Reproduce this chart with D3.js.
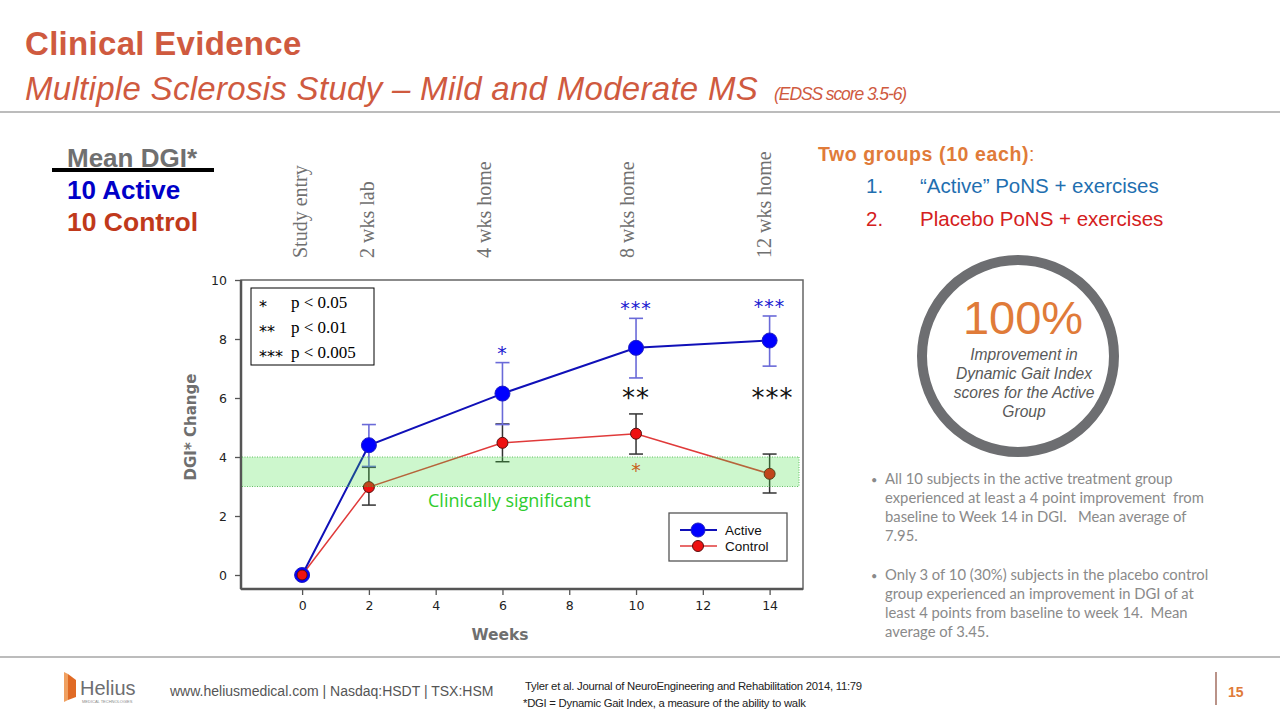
<!DOCTYPE html>
<html><head><meta charset="utf-8">
<script src="https://cdn.jsdelivr.net/npm/d3@7/dist/d3.min.js"></script>
<style>
html,body{margin:0;padding:0;background:#fff;}
svg{display:block;}
</style></head>
<body>
<svg id="c" width="1280" height="720"></svg>
<script>
// ---- data ----
const weeks = [0, 2, 6, 10, 14];
const activeMean = [0, 4.4, 6.15, 7.7, 7.95];
const activeUpper = [0, 5.1, 7.2, 8.7, 8.78];
const activeLower = [0, 3.68, 5.1, 6.68, 7.08];
const controlMean = [0, 2.98, 4.48, 4.79, 3.43];
const controlUpper = [0, 3.65, 5.12, 5.46, 4.1];
const controlLower = [0, 2.37, 3.84, 4.1, 2.78];
const xTicks = [0, 2, 4, 6, 8, 10, 12, 14];
const yTicks = [0, 2, 4, 6, 8, 10];
const band = [3, 4];
const timeLabels = [
  {week: 0, label: "Study entry"},
  {week: 2, label: "2 wks lab"},
  {week: 5.5, label: "4 wks home"},
  {week: 9.8, label: "8 wks home"},
  {week: 13.9, label: "12 wks home"}
];
const activeSig = [{week: 6, text: "*"}, {week: 10, text: "***"}, {week: 14, text: "***"}];
const betweenSig = [{week: 10, text: "**"}, {week: 14, text: "***"}];
const controlSig = [{week: 10, text: "*"}];
const pLegend = [["*", "p < 0.05"], ["**", "p < 0.01"], ["***", "p < 0.005"]];

const svg = d3.select("#c");
const SANS = "'Liberation Sans', Arial, sans-serif";

// ---- header ----
svg.append("text").attr("x", 25).attr("y", 55).attr("font-family", SANS).attr("font-weight", "bold")
  .attr("font-size", 33).attr("fill", "#cf5a3f").attr("letter-spacing", 0.3).text("Clinical Evidence");
const sub = svg.append("text").attr("x", 25).attr("y", 100).attr("font-family", SANS).attr("font-style", "italic")
  .attr("font-size", 33).attr("fill", "#cf5a3f").attr("letter-spacing", 0.3);
sub.append("tspan").text("Multiple  Sclerosis Study – Mild and Moderate MS");
sub.append("tspan").attr("dx", 16).attr("font-size", 17.5).attr("letter-spacing", -1.1).text("(EDSS score 3.5-6)");
svg.append("line").attr("x1", 0).attr("x2", 1280).attr("y1", 112).attr("y2", 112).attr("stroke", "#a6a6a6").attr("stroke-width", 1.5);

// ---- top-left legend ----
svg.append("text").attr("x", 67).attr("y", 167).attr("font-family", SANS).attr("font-weight", "bold")
  .attr("font-size", 26).attr("fill", "#707070").text("Mean DGI*");
svg.append("rect").attr("x", 52).attr("y", 168).attr("width", 162).attr("height", 4).attr("fill", "#000");
svg.append("text").attr("x", 67).attr("y", 199).attr("font-family", SANS).attr("font-weight", "bold")
  .attr("font-size", 26).attr("fill", "#0000c8").text("10 Active");
svg.append("text").attr("x", 67).attr("y", 231).attr("font-family", SANS).attr("font-weight", "bold")
  .attr("font-size", 26.5).attr("fill", "#c0391b").text("10 Control");

// ---- chart ----
const x = d3.scaleLinear().domain([-1.83, 15]).range([241, 803]);
const y = d3.scaleLinear().domain([0, 10]).range([575, 280]);
const yBottom = 589;

const g = svg.append("g");
const xAxis = g.append("g").attr("transform", `translate(0,${yBottom})`)
  .call(d3.axisBottom(x).tickValues(xTicks).tickSize(6).tickSizeOuter(0).tickPadding(6));
const yAxis = g.append("g").attr("transform", `translate(241,0)`)
  .call(d3.axisLeft(y).tickValues(yTicks).tickSize(6).tickSizeOuter(0).tickPadding(8));
[xAxis, yAxis].forEach(a => {
  a.select(".domain").remove();
  a.selectAll("line").attr("stroke", "#555").attr("stroke-width", 1.3);
  a.selectAll("text").attr("font-family", "'DejaVu Sans', Verdana, sans-serif").attr("font-size", 12.5).attr("fill", "#222");
});
g.append("path").attr("d", `M241,${y(10)}H803V${yBottom}H241Z`).attr("fill", "none").attr("stroke", "#666").attr("stroke-width", 1.5);
g.append("line").attr("x1", 241).attr("x2", 241).attr("y1", y(10)).attr("y2", yBottom).attr("stroke", "#555").attr("stroke-width", 2.5);
g.append("line").attr("x1", 241).attr("x2", 803).attr("y1", yBottom).attr("y2", yBottom).attr("stroke", "#555").attr("stroke-width", 2.5);

svg.append("text").attr("transform", `translate(196,427) rotate(-90)`).attr("text-anchor", "middle")
  .attr("font-family", "'DejaVu Sans', Verdana, sans-serif").attr("font-weight", "bold").attr("font-size", 15)
  .attr("fill", "#6f6f6f").text("DGI* Change");
svg.append("text").attr("x", 500).attr("y", 640).attr("text-anchor", "middle")
  .attr("font-family", "'DejaVu Sans', Verdana, sans-serif").attr("font-weight", "bold").attr("font-size", 15.5)
  .attr("fill", "#6f6f6f").text("Weeks");

timeLabels.forEach(t => {
  svg.append("text").attr("transform", `translate(${x(t.week) + 5},258) rotate(-90)`)
    .attr("font-family", "'Liberation Serif', 'Times New Roman', serif").attr("font-size", 20)
    .attr("fill", "#707070").text(t.label);
});

const lineGen = d3.line().x(d => x(d[0])).y(d => y(d[1]));
const errBar = (arr, up, lo, color, w) => {
  arr.forEach((wk, i) => {
    if (i === 0) return;
    const cx = x(wk);
    g.append("line").attr("x1", cx).attr("x2", cx).attr("y1", y(up[i])).attr("y2", y(lo[i])).attr("stroke", color).attr("stroke-width", w);
    [up[i], lo[i]].forEach(v => g.append("line").attr("x1", cx - 7).attr("x2", cx + 7).attr("y1", y(v)).attr("y2", y(v)).attr("stroke", color).attr("stroke-width", w));
  });
};
errBar(weeks, controlUpper, controlLower, "#333", 1.5);
errBar(weeks, activeUpper, activeLower, "#6a6ad8", 1.6);

g.append("path").datum(weeks.map((w, i) => [w, controlMean[i]])).attr("d", lineGen)
  .attr("fill", "none").attr("stroke", "#e03a3a").attr("stroke-width", 1.5);
g.append("path").datum(weeks.map((w, i) => [w, activeMean[i]])).attr("d", lineGen)
  .attr("fill", "none").attr("stroke", "#1010b8").attr("stroke-width", 2);

g.selectAll(".am").data(weeks.map((w, i) => [w, activeMean[i]])).join("circle")
  .attr("cx", d => x(d[0])).attr("cy", d => y(d[1])).attr("r", 7.5).attr("fill", "#0000ff").attr("stroke", "#2020c0").attr("stroke-width", 1);
g.selectAll(".cm").data(weeks.map((w, i) => [w, controlMean[i]])).join("circle")
  .attr("cx", d => x(d[0])).attr("cy", d => y(d[1])).attr("r", d => d[0] === 0 ? 5 : 5.5).attr("fill", "#ee1111").attr("stroke", "#5a1010").attr("stroke-width", 1);

g.append("rect").attr("x", 242).attr("width", 799 - 242).attr("y", y(band[1])).attr("height", y(band[0]) - y(band[1]))
  .attr("fill", "#3fe03f").attr("fill-opacity", 0.26);
[band[0], band[1]].forEach(v => g.append("line").attr("x1", 242).attr("x2", 799).attr("y1", y(v)).attr("y2", y(v))
  .attr("stroke", "#40b040").attr("stroke-width", 0.8).attr("stroke-dasharray", "1,1.5"));
g.append("line").attr("x1", 799).attr("x2", 799).attr("y1", y(band[1])).attr("y2", y(band[0]))
  .attr("stroke", "#40b040").attr("stroke-width", 0.8).attr("stroke-dasharray", "1,1.5");
svg.append("text").attr("x", 428).attr("y", 507).attr("font-family", "'Open Sans', 'DejaVu Sans', sans-serif")
  .attr("font-size", 18).attr("fill", "#2ecc2e").text("Clinically significant");

const starFont = "'DejaVu Sans', sans-serif";
activeSig.forEach(s => {
  const i = weeks.indexOf(s.week);
  svg.append("text").attr("x", x(s.week)).attr("y", y(activeUpper[i]) - 3).attr("text-anchor", "middle")
    .attr("font-family", starFont).attr("font-size", 19).attr("fill", "#1a1ad0").attr("letter-spacing", 1).text(s.text);
});
betweenSig.forEach(s => {
  svg.append("text").attr("x", x(s.week) + (s.text.length === 3 ? 3 : 0)).attr("y", 407).attr("text-anchor", "middle")
    .attr("font-family", starFont).attr("font-size", 26).attr("fill", "#111").attr("letter-spacing", 1).text(s.text);
});
controlSig.forEach(s => {
  const i = weeks.indexOf(s.week);
  svg.append("text").attr("x", x(s.week)).attr("y", y(controlLower[i]) + 23).attr("text-anchor", "middle")
    .attr("font-family", starFont).attr("font-size", 19).attr("fill", "#c8621a").text(s.text);
});

svg.append("rect").attr("x", 251).attr("y", 288).attr("width", 123).attr("height", 77).attr("fill", "#fff").attr("stroke", "#000").attr("stroke-width", 1);
pLegend.forEach((p, i) => {
  const yy = 308 + i * 25;
  svg.append("text").attr("x", 259).attr("y", yy + 4).attr("font-family", "'DejaVu Sans', sans-serif").attr("font-size", 16).text(p[0]);
  svg.append("text").attr("x", 291).attr("y", yy).attr("font-family", "'Liberation Serif', serif").attr("font-size", 17).text(p[1]);
});

svg.append("rect").attr("x", 669).attr("y", 513).attr("width", 118).attr("height", 48).attr("fill", "#fff").attr("stroke", "#555").attr("stroke-width", 1.3);
[["Active", "#0000ff", "#1010b8", 7], ["Control", "#ee1111", "#e03a3a", 5.5]].forEach((s, i) => {
  const yy = 530 + i * 16;
  svg.append("line").attr("x1", 680).attr("x2", 717).attr("y1", yy).attr("y2", yy).attr("stroke", s[2]).attr("stroke-width", i ? 1.5 : 2);
  svg.append("circle").attr("cx", 698).attr("cy", yy).attr("r", s[3]).attr("fill", s[1]).attr("stroke", i ? "#5a1010" : "#2020c0");
  svg.append("text").attr("x", 725).attr("y", yy + 5).attr("font-family", SANS).attr("font-size", 13.5).attr("fill", "#111").text(s[0]);
});

// ---- right panel ----
const rt = svg.append("text").attr("x", 818).attr("y", 161).attr("font-family", SANS).attr("font-size", 19.5).attr("font-weight", "bold").attr("fill", "#e07b39").attr("letter-spacing", 0.6);
rt.append("tspan").text("Two  groups (10 each)");
rt.append("tspan").attr("font-weight", "normal").text(":");
[["1.", "“Active” PoNS + exercises", "#1f6fb0", 193], ["2.", "Placebo PoNS + exercises", "#d42020", 226]].forEach(r => {
  svg.append("text").attr("x", 866).attr("y", r[3]).attr("font-family", SANS).attr("font-size", 20.5).attr("fill", r[2]).text(r[0]);
  svg.append("text").attr("x", 920).attr("y", r[3]).attr("font-family", SANS).attr("font-size", 20.5).attr("fill", r[2]).text(r[1]);
});

svg.append("circle").attr("cx", 1018).attr("cy", 356).attr("r", 96).attr("fill", "#fff").attr("stroke", "#6d6e71").attr("stroke-width", 10);
svg.append("text").attr("x", 1023).attr("y", 334).attr("text-anchor", "middle").attr("font-family", SANS).attr("font-size", 47).attr("fill", "#e07b39").text("100%");
["Improvement in", "Dynamic Gait Index", "scores for the Active", "Group"].forEach((l, i) => {
  svg.append("text").attr("x", 1024).attr("y", 360 + i * 19).attr("text-anchor", "middle").attr("font-family", SANS)
    .attr("font-style", "italic").attr("font-size", 15.6).attr("fill", "#595959").text(l);
});

const bullets = [
  ["All 10 subjects in the active treatment group", "experienced at least a 4 point improvement  from", "baseline to Week 14 in DGI.   Mean average of", "7.95."],
  ["Only 3 of 10 (30%) subjects in the placebo control", "group experienced an improvement in DGI of at", "least 4 points from baseline to week 14.  Mean", "average of 3.45."]
];
bullets.forEach((b, bi) => {
  const y0 = 484 + bi * 96;
  svg.append("text").attr("x", 871).attr("y", y0).attr("font-family", "Lato, sans-serif").attr("font-size", 11).attr("fill", "#8a8a8a").text("•");
  b.forEach((l, i) => svg.append("text").attr("x", 885).attr("y", y0 + i * 19).attr("font-family", "Lato, 'Open Sans', sans-serif")
    .attr("font-size", 14.8).attr("fill", "#8a8a8a").style("white-space", "pre").text(l));
});

// ---- footer ----
svg.append("line").attr("x1", 0).attr("x2", 1280).attr("y1", 657).attr("y2", 657).attr("stroke", "#a6a6a6").attr("stroke-width", 1.5);
svg.append("path").attr("d", "M64,672 L68,674 L68,700 L64,702 Z").attr("fill", "#f0a060");
svg.append("path").attr("d", "M68,674 L76,680 L76,697 L68,700 Z").attr("fill", "#e06a25");
svg.append("text").attr("x", 80).attr("y", 695).attr("font-family", SANS).attr("font-size", 20).attr("fill", "#6d6e71").text("Helius");
svg.append("text").attr("x", 82).attr("y", 703).attr("font-family", SANS).attr("font-size", 4).attr("fill", "#8a8a8a").text("MEDICAL TECHNOLOGIES");
svg.append("text").attr("x", 170).attr("y", 696).attr("font-family", SANS).attr("font-size", 14).attr("fill", "#555")
  .text("www.heliusmedical.com  | Nasdaq:HSDT  | TSX:HSM");
svg.append("text").attr("x", 525).attr("y", 690).attr("font-family", SANS).attr("font-size", 11.3).attr("fill", "#222")
  .attr("letter-spacing", -0.25).text("Tyler et al. Journal of NeuroEngineering and Rehabilitation 2014, 11:79");
svg.append("text").attr("x", 523).attr("y", 707).attr("font-family", SANS).attr("font-size", 11.3).attr("fill", "#222")
  .attr("letter-spacing", -0.25).text("*DGI  = Dynamic Gait Index, a measure of the ability to walk");
svg.append("line").attr("x1", 1216).attr("x2", 1216).attr("y1", 672).attr("y2", 705).attr("stroke", "#8b4a3a").attr("stroke-width", 1.2);
svg.append("text").attr("x", 1228).attr("y", 697).attr("font-family", SANS).attr("font-weight", "bold").attr("font-size", 14).attr("fill", "#e07b39").text("15");
</script>
</body></html>
